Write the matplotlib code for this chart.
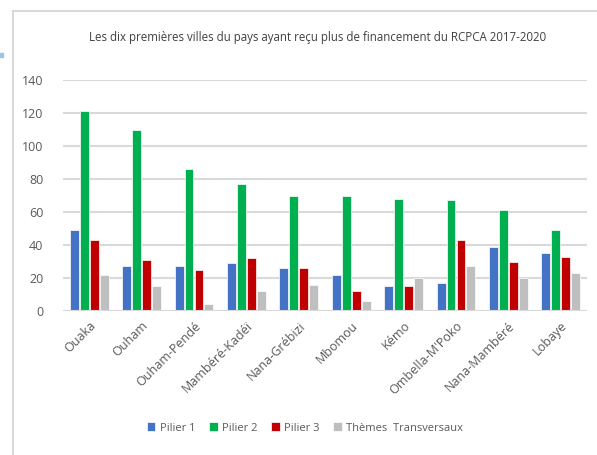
import matplotlib
matplotlib.use("Agg")
import matplotlib.pyplot as plt
import numpy as np
from matplotlib.lines import Line2D
from matplotlib.patches import Rectangle

plt.rcParams['font.family'] = ['Open Sans', 'DejaVu Sans']

categories = ["Ouaka", "Ouham", "Ouham-Pendé", "Mambéré-Kadéï", "Nana-Grébizi",
              "Mbomou", "Kémo", "Ombella-M'Poko", "Nana-Mambéré", "Lobaye"]
pilier1 = [49, 27, 27, 29, 26, 22, 15, 17, 39, 35]
pilier2 = [121, 110, 86, 77, 70, 70, 68, 67, 61, 49]
pilier3 = [43, 31, 25, 32, 26, 12, 15, 43, 30, 33]
themes = [22, 15, 4, 12, 16, 6, 20, 27, 20, 23]
series_names = ["Pilier 1", "Pilier 2", "Pilier 3", "Thèmes  Transversaux"]
colors = ["#4472C4", "#00B050", "#C00000", "#BFBFBF"]
title = "Les dix premières villes du pays ayant reçu plus de financement du RCPCA 2017-2020"

fig = plt.figure(figsize=(5.97, 4.55), dpi=100)
# frame lines
fig.add_artist(Line2D([13/597, 13/597], [0, 1 - 11/455], color="#D9D9D9", lw=1.5))
fig.add_artist(Line2D([13/597, 1], [1 - 11/455, 1 - 11/455], color="#D9D9D9", lw=1.5))
fig.add_artist(Rectangle((0, 1 - 57/455), 3/597, 4/455, color="#9DC3E6", transform=fig.transFigure))

ax = fig.add_axes([63/597, 1 - 311/455, (587 - 63)/597, (311 - 80)/455])
x = np.arange(len(categories))
w = 0.17
for i, (vals, c) in enumerate(zip([pilier1, pilier2, pilier3, themes], colors)):
    ax.bar(x + (i - 1.5) * (w + 0.02), vals, w, color=c, label=series_names[i],
           edgecolor="white", linewidth=0.5, zorder=3)

ax.set_ylim(0, 140)
ax.set_xlim(-0.5, len(categories) - 0.5)
ax.set_yticks(range(0, 141, 20))
ax.yaxis.grid(True, color="#D9D9D9", lw=1.5, zorder=0)
for s in ax.spines.values():
    s.set_visible(False)
ax.axhline(0, color="#D9D9D9", lw=1.5, zorder=4)
ax.tick_params(axis='both', length=0, colors="#595959", labelsize=9)
ax.tick_params(axis='y', pad=14)
ax.set_xticks(x)
ax.set_xticklabels(categories, rotation=45, ha="right", rotation_mode="anchor")
ax.tick_params(axis='x', pad=6)

fig.text(0.532, 1 - 38/455, title, ha="center", va="center", fontsize=8.3, color="#404040")

ax.legend(loc="center", bbox_to_anchor=((305 - 63) / 524, (311 - 428) / (311 - 80)), ncol=4,
          frameon=False, fontsize=8, handlelength=0.8, handleheight=0.8, handletextpad=0.4,
          columnspacing=1.2, labelcolor="#595959")

fig.savefig("out.png", dpi=100)
